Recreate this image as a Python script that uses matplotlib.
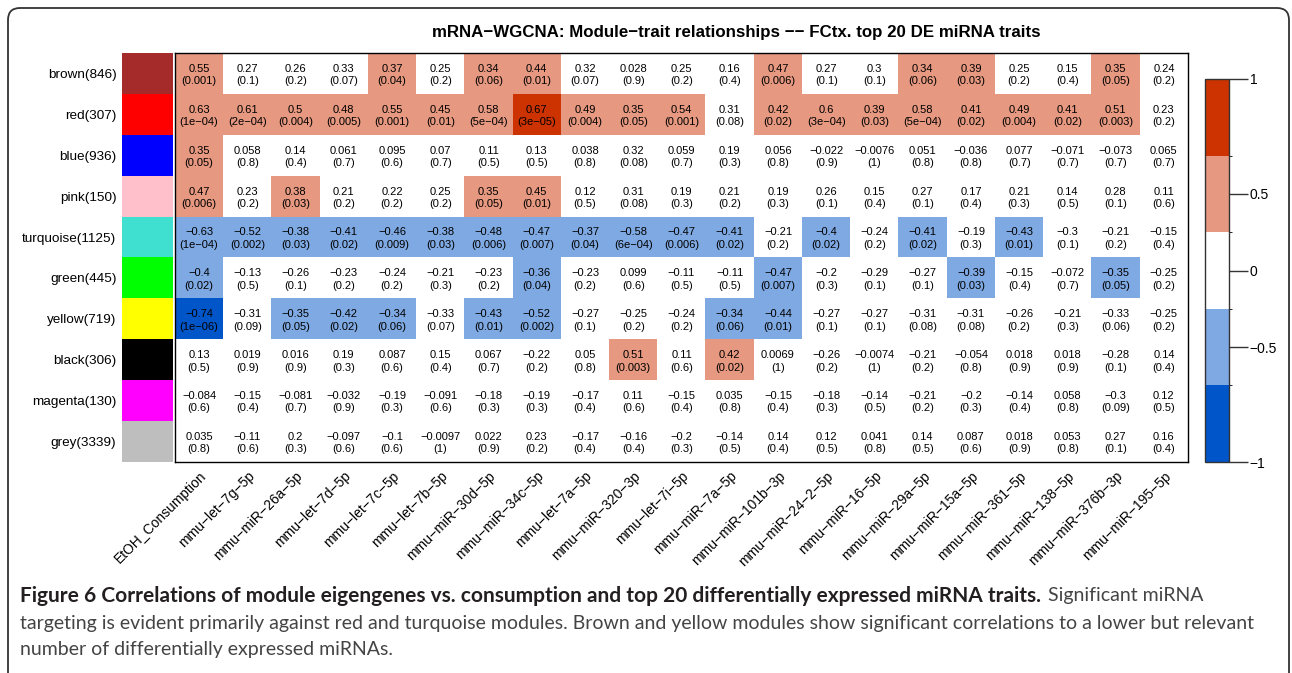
import numpy as np
import matplotlib
matplotlib.use("Agg")
import matplotlib.pyplot as plt
from matplotlib.colors import ListedColormap, BoundaryNorm
from matplotlib.patches import FancyBboxPatch
import matplotlib.cm as cm

plt.rcParams['font.family'] = ['Liberation Sans', 'DejaVu Sans']

modules = ["brown(846)", "red(307)", "blue(936)", "pink(150)", "turquoise(1125)",
           "green(445)", "yellow(719)", "black(306)", "magenta(130)", "grey(3339)"]
module_colors = ["#A52A2A", "#FF0000", "#0000FF", "#FFC0CB", "#40E0D0",
                 "#00FF00", "#FFFF00", "#000000", "#FF00FF", "#BEBEBE"]

traits = ["EtOH_Consumption", "mmu-let-7g-5p", "mmu-miR-26a-5p", "mmu-let-7d-5p",
          "mmu-let-7c-5p", "mmu-let-7b-5p", "mmu-miR-30d-5p", "mmu-miR-34c-5p",
          "mmu-let-7a-5p", "mmu-miR-320-3p", "mmu-let-7i-5p", "mmu-miR-7a-5p",
          "mmu-miR-101b-3p", "mmu-miR-24-2-5p", "mmu-miR-16-5p", "mmu-miR-29a-5p",
          "mmu-miR-15a-5p", "mmu-miR-361-5p", "mmu-miR-138-5p", "mmu-miR-376b-3p",
          "mmu-miR-195-5p"]

cor_brown = [0.55, 0.27, 0.26, 0.33, 0.37, 0.25, 0.34, 0.44, 0.32, 0.028, 0.25, 0.16, 0.47, 0.27, 0.3, 0.34, 0.39, 0.25, 0.15, 0.35, 0.24]
p_brown = ["0.001", "0.1", "0.2", "0.07", "0.04", "0.2", "0.06", "0.01", "0.07", "0.9", "0.2", "0.4", "0.006", "0.1", "0.1", "0.06", "0.03", "0.2", "0.4", "0.05", "0.2"]
cor_red = [0.63, 0.61, 0.5, 0.48, 0.55, 0.45, 0.58, 0.67, 0.49, 0.35, 0.54, 0.31, 0.42, 0.6, 0.39, 0.58, 0.41, 0.49, 0.41, 0.51, 0.23]
p_red = ["1e-04", "2e-04", "0.004", "0.005", "0.001", "0.01", "5e-04", "3e-05", "0.004", "0.05", "0.001", "0.08", "0.02", "3e-04", "0.03", "5e-04", "0.02", "0.004", "0.02", "0.003", "0.2"]
cor_blue = [0.35, 0.058, 0.14, 0.061, 0.095, 0.07, 0.11, 0.13, 0.038, 0.32, 0.059, 0.19, 0.056, -0.022, -0.0076, 0.051, -0.036, 0.077, -0.071, -0.073, 0.065]
p_blue = ["0.05", "0.8", "0.4", "0.7", "0.6", "0.7", "0.5", "0.5", "0.8", "0.08", "0.7", "0.3", "0.8", "0.9", "1", "0.8", "0.8", "0.7", "0.7", "0.7", "0.7"]
cor_pink = [0.47, 0.23, 0.38, 0.21, 0.22, 0.25, 0.35, 0.45, 0.12, 0.31, 0.19, 0.21, 0.19, 0.26, 0.15, 0.27, 0.17, 0.21, 0.14, 0.28, 0.11]
p_pink = ["0.006", "0.2", "0.03", "0.2", "0.2", "0.2", "0.05", "0.01", "0.5", "0.08", "0.3", "0.2", "0.3", "0.1", "0.4", "0.1", "0.4", "0.3", "0.5", "0.1", "0.6"]
cor_turq = [-0.63, -0.52, -0.38, -0.41, -0.46, -0.38, -0.48, -0.47, -0.37, -0.58, -0.47, -0.41, -0.21, -0.4, -0.24, -0.41, -0.19, -0.43, -0.3, -0.21, -0.15]
p_turq = ["1e-04", "0.002", "0.03", "0.02", "0.009", "0.03", "0.006", "0.007", "0.04", "6e-04", "0.006", "0.02", "0.2", "0.02", "0.2", "0.02", "0.3", "0.01", "0.1", "0.2", "0.4"]
cor_green = [-0.4, -0.13, -0.26, -0.23, -0.24, -0.21, -0.23, -0.36, -0.23, 0.099, -0.11, -0.11, -0.47, -0.2, -0.29, -0.27, -0.39, -0.15, -0.072, -0.35, -0.25]
p_green = ["0.02", "0.5", "0.1", "0.2", "0.2", "0.3", "0.2", "0.04", "0.2", "0.6", "0.5", "0.5", "0.007", "0.3", "0.1", "0.1", "0.03", "0.4", "0.7", "0.05", "0.2"]
cor_yellow = [-0.74, -0.31, -0.35, -0.42, -0.34, -0.33, -0.43, -0.52, -0.27, -0.25, -0.24, -0.34, -0.44, -0.27, -0.27, -0.31, -0.31, -0.26, -0.21, -0.33, -0.25]
p_yellow = ["1e-06", "0.09", "0.05", "0.02", "0.06", "0.07", "0.01", "0.002", "0.1", "0.2", "0.2", "0.06", "0.01", "0.1", "0.1", "0.08", "0.08", "0.2", "0.3", "0.06", "0.2"]
cor_black = [0.13, 0.019, 0.016, 0.19, 0.087, 0.15, 0.067, -0.22, 0.05, 0.51, 0.11, 0.42, 0.0069, -0.26, -0.0074, -0.21, -0.054, 0.018, 0.018, -0.28, 0.14]
p_black = ["0.5", "0.9", "0.9", "0.3", "0.6", "0.4", "0.7", "0.2", "0.8", "0.003", "0.6", "0.02", "1", "0.2", "1", "0.2", "0.8", "0.9", "0.9", "0.1", "0.4"]
cor_magenta = [-0.084, -0.15, -0.081, -0.032, -0.19, -0.091, -0.18, -0.19, -0.17, 0.11, -0.15, 0.035, -0.15, -0.18, -0.14, -0.21, -0.2, -0.14, 0.058, -0.3, 0.12]
p_magenta = ["0.6", "0.4", "0.7", "0.9", "0.3", "0.6", "0.3", "0.3", "0.4", "0.6", "0.4", "0.8", "0.4", "0.3", "0.5", "0.2", "0.3", "0.4", "0.8", "0.09", "0.5"]
cor_grey = [0.035, -0.11, 0.2, -0.097, -0.1, -0.0097, 0.022, 0.23, -0.17, -0.16, -0.2, -0.14, 0.14, 0.12, 0.041, 0.14, 0.087, 0.018, 0.053, 0.27, 0.16]
p_grey = ["0.8", "0.6", "0.3", "0.6", "0.6", "1", "0.9", "0.2", "0.4", "0.4", "0.3", "0.5", "0.4", "0.5", "0.8", "0.5", "0.6", "0.9", "0.8", "0.1", "0.4"]

cor = np.array([cor_brown, cor_red, cor_blue, cor_pink, cor_turq, cor_green,
                cor_yellow, cor_black, cor_magenta, cor_grey])
pvals = [p_brown, p_red, p_blue, p_pink, p_turq, p_green, p_yellow, p_black, p_magenta, p_grey]

MINUS = "\u2212"
def rdash(s):
    return s.replace("-", MINUS)

W, H = 1292, 673
fig = plt.figure(figsize=(W / 100, H / 100), dpi=100)

def px_axes(x0, y0, x1, y1):
    # pixel box (top-left origin) -> figure axes
    return fig.add_axes([x0 / W, 1 - y1 / H, (x1 - x0) / W, (y1 - y0) / H])

cmap = ListedColormap(["#0055C8", "#7FA9E3", "#FFFFFF", "#E69880", "#CC3300"])
norm = BoundaryNorm([-1, -2 / 3, -1 / 3, 1 / 3, 2 / 3, 1], cmap.N)

nr, nc = cor.shape
top, bot = 53, 462

# heatmap
ax = px_axes(175, top, 1188, bot)
ax.imshow(cor, cmap=cmap, norm=norm, aspect="auto", interpolation="nearest")
for i in range(nr):
    for j in range(nc):
        ax.text(j, i + 0.04, rdash(str(cor[i, j])) + "\n(" + rdash(pvals[i][j]) + ")",
                ha="center", va="center", fontsize=8, linespacing=1.3, color="black")
ax.set_yticks([])
ax.set_xticks(np.arange(nc))
ax.set_xticklabels([rdash(t) for t in traits], rotation=45, ha="right",
                   rotation_mode="anchor", fontsize=10)
ax.tick_params(axis="x", length=0, pad=5)
for s in ax.spines.values():
    s.set_linewidth(1.0)
    s.set_color("black")

# module colour column
axm = px_axes(122, top, 173, bot)
axm.imshow(np.arange(nr).reshape(-1, 1), cmap=ListedColormap(module_colors),
           aspect="auto", interpolation="nearest")
axm.set_xticks([])
axm.set_yticks(np.arange(nr))
axm.set_yticklabels(modules, fontsize=9.7)
axm.tick_params(axis="y", length=0, pad=4)
for s in axm.spines.values():
    s.set_visible(False)

# colour legend
axc = px_axes(1205, 79, 1229, 462)
cb = fig.colorbar(cm.ScalarMappable(norm=norm, cmap=cmap), cax=axc,
                  ticks=[-1, -0.5, 0, 0.5, 1])
cb.ax.set_yticklabels([rdash(t) for t in ["-1", "-0.5", "0", "0.5", "1"]], fontsize=10)
cb.ax.tick_params(length=14, width=1, pad=1, color="#333333")
cb.outline.set_edgecolor("#333333")
cb.outline.set_linewidth(1.0)

fig.text(736 / W, 1 - 33 / H,
         rdash("mRNA-WGCNA: Module-trait relationships -- FCtx. top 20 DE miRNA traits"),
         ha="center", va="center", fontsize=12.2, fontweight="bold")

# outer frame
frame = FancyBboxPatch((0.08, -0.5), 12.81, 6.65 + 0.5,
                       boxstyle="round,pad=0,rounding_size=0.12",
                       transform=fig.dpi_scale_trans, fill=False,
                       edgecolor="#333333", linewidth=1.3)
fig.add_artist(frame)

# caption
cap_font = ["Lato", "DejaVu Sans"]
r = fig.canvas.get_renderer()

def fit_size(txt, width_px, weight="normal"):
    t = fig.text(0, 0, txt, fontsize=10, family=cap_font, fontweight=weight)
    w = t.get_window_extent(renderer=r).width
    t.remove()
    return 10 * width_px / w

line2 = "targeting is evident primarily against red and turquoise modules. Brown and yellow modules show significant correlations to a lower but relevant"
bold1 = "Figure 6 Correlations of module eigengenes vs. consumption and top 20 differentially expressed miRNA traits."
reg_size = fit_size(line2, 1236)
bold_size = fit_size(bold1, 1025, "bold")

t1 = fig.text(20 / W, 1 - 596 / H, bold1, fontsize=bold_size, fontweight="bold",
              family=cap_font, color="#231F20", ha="left", va="center")
bb = t1.get_window_extent(renderer=r)
fig.text((bb.x1 + 7) / W, 1 - 596 / H, "Significant miRNA",
         fontsize=reg_size, family=cap_font, color="#444444", ha="left", va="center")
fig.text(20 / W, 1 - 623 / H, line2,
         fontsize=reg_size, family=cap_font, color="#444444", ha="left", va="center")
fig.text(20 / W, 1 - 650 / H, "number of differentially expressed miRNAs.",
         fontsize=reg_size, family=cap_font, color="#444444", ha="left", va="center")

fig.savefig("out.png", dpi=100)
